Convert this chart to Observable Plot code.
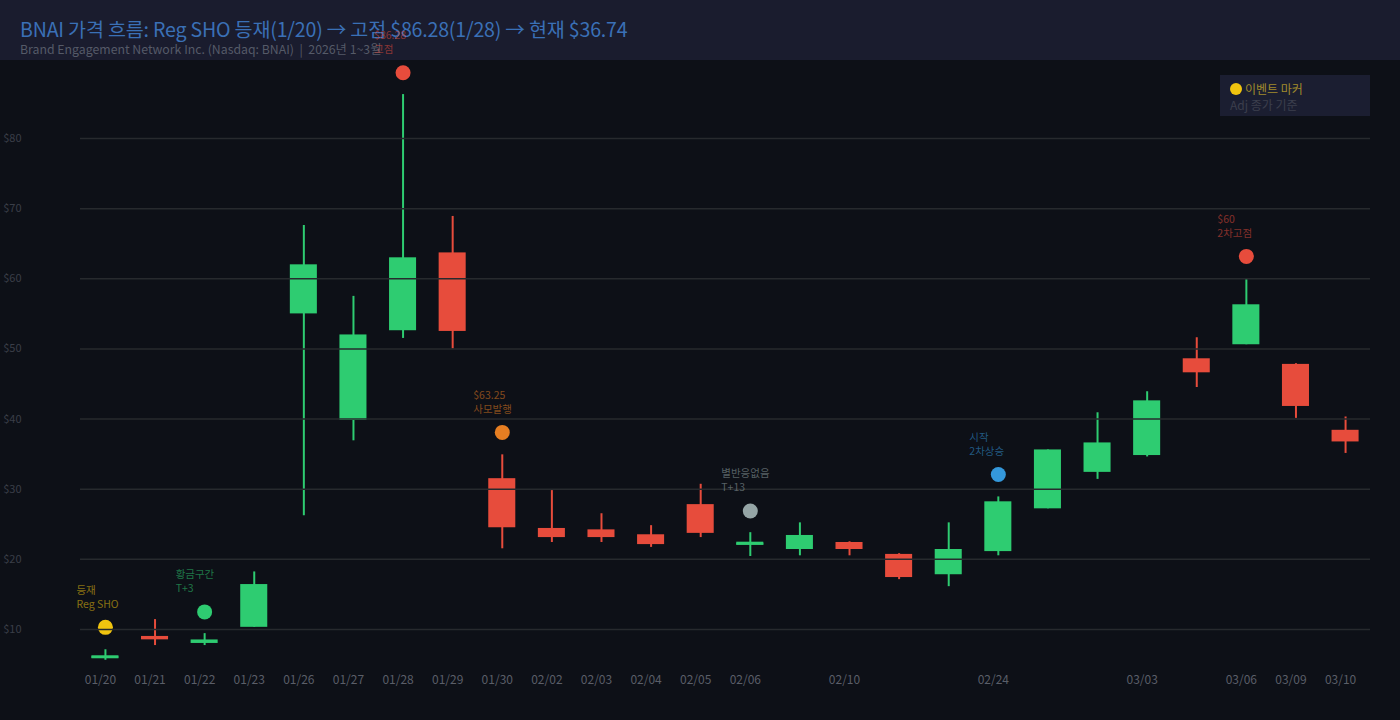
<!DOCTYPE html>
<html><head><meta charset="utf-8">
<script src="https://cdn.jsdelivr.net/npm/d3@7"></script>
<script src="https://cdn.jsdelivr.net/npm/@observablehq/plot@0.6"></script>
<style>
html,body{margin:0;padding:0;background:#0d1017;width:1400px;height:720px;overflow:hidden;font-family:"Noto Sans CJK KR","Noto Sans",sans-serif;}
#header{height:60px;background:#1a1c2e;position:relative;}
#title{position:absolute;top:14px;left:20px;font-size:19.6px;font-weight:400;color:#3a70b6;white-space:nowrap;letter-spacing:-0.2px}
#sub{position:absolute;top:40px;left:20px;font-size:12.3px;font-weight:400;color:#555a68;white-space:nowrap}
#chart{position:relative}
#chart svg{overflow:visible;display:block}
#legend{position:absolute;left:1220px;top:75px;width:150px;height:41px;background:#1b1e31;z-index:2}
#legend .dot{position:absolute;left:10px;top:8px;width:12px;height:12px;border-radius:50%;background:#f1c40f}
#legend .l1{position:absolute;left:25px;top:5px;font-size:12px;color:#a08a2c;white-space:nowrap}
#legend .l2{position:absolute;left:10px;top:21px;font-size:12px;color:#3c3f4d;white-space:nowrap}
</style>
</head><body>
<div id="header">
  <div id="title">BNAI 가격 흐름: Reg SHO 등재(1/20) → 고점 $86.28(1/28) → 현재 $36.74</div>
  <div id="sub">Brand Engagement Network Inc. (Nasdaq: BNAI) &nbsp;|&nbsp; 2026년 1~3월</div>
</div>
<div id="chart"></div>
<div id="legend"><div class="dot"></div><div class="l1">이벤트 마커</div><div class="l2">Adj 종가 기준</div></div>
<script>
// ---- data ----
const dates = ["01/20","01/21","01/22","01/23","01/26","01/27","01/28","01/29","01/30","02/02","02/03","02/04","02/05","02/06","02/09","02/10","02/11","02/12","02/24","02/25","02/26","03/03","03/04","03/06","03/09","03/10"];
const opens  = [5.9, 9.0, 8.0, 10.3, 55.0, 39.8, 52.6, 63.7, 31.5, 24.4, 24.2, 23.5, 27.8, 22.0, 21.4, 22.4, 20.7, 17.8, 21.1, 27.2, 32.4, 34.8, 48.6, 50.6, 47.8, 38.4];
const highs  = [7.1, 11.4, 9.4, 18.2, 67.6, 57.5, 86.28, 68.9, 34.9, 29.8, 26.5, 24.8, 30.7, 23.8, 25.2, 22.5, 20.8, 25.2, 28.9, 35.6, 40.9, 43.9, 51.6, 59.9, 47.9, 40.3];
const lows   = [5.6, 7.7, 7.7, 10.3, 26.2, 36.9, 51.5, 50.0, 21.5, 22.4, 22.4, 21.7, 23.1, 20.4, 20.5, 20.5, 17.1, 16.1, 20.5, 27.2, 31.4, 34.6, 44.5, 50.6, 40.1, 35.1];
const closes = [6.1, 8.8, 8.5, 16.4, 62.0, 52.0, 63.0, 52.5, 24.5, 23.1, 23.1, 22.1, 23.7, 22.3, 23.4, 21.4, 17.4, 21.4, 28.2, 35.6, 36.6, 42.6, 46.6, 56.3, 41.8, 36.74];
const tickLabels = ["01/20","01/21","01/22","01/23","01/26","01/27","01/28","01/29","01/30","02/02","02/03","02/04","02/05","02/06","02/10","02/24","03/03","03/06","03/09","03/10"];
const yTicks = [10,20,30,40,50,60,70,80];

const eventDates  = ["01/20","01/22","01/28","01/30","02/06","02/24","03/06"];
const eventValues = [10.3, 12.5, 89.4, 38.1, 26.9, 32.1, 63.2];
const eventLine1  = ["등재","황금구간","$86.28","$63.25","별반응없음","시작","$60"];
const eventLine2  = ["Reg SHO","T+3","고점","사모발행","T+13","2차상승","2차고점"];
const eventColors = ["#f1c40f","#2ecc71","#e74c3c","#e67e22","#95a5a6","#3498db","#e74c3c"];

const UP = "#2ecc71", DOWN = "#e74c3c";
const candles = dates.map((d,i)=>({date:d, open:opens[i], high:highs[i], low:lows[i], close:closes[i], color: closes[i] >= opens[i] ? UP : DOWN}));
const dojis = candles.filter(c => Math.abs(c.close - c.open) < 0.5);
const events = eventDates.map((d,i)=>({date:d, value:eventValues[i], l1:eventLine1[i], l2:eventLine2[i], color:eventColors[i]}));

const chart = Plot.plot({
  width: 1400,
  height: 660,
  marginLeft: 80,
  marginRight: 30,
  marginTop: 8,
  marginBottom: 49,
  style: {background: "transparent", fontFamily: "'Noto Sans CJK KR','Noto Sans',sans-serif", overflow: "visible"},
  x: {type: "band", domain: dates, paddingInner: 0.455, paddingOuter: 0.23, round: false, axis: null, label: null},
  y: {domain: [4, 90], axis: null, label: null},
  marks: [
    Plot.ruleX(candles, {x: "date", y1: "low", y2: "high", stroke: "color", strokeWidth: 2}),
    Plot.rectY(candles, {x: "date", y1: "open", y2: "close", fill: "color"}),
    Plot.tickY(dojis, {x: "date", y: "close", stroke: "color", strokeWidth: 3}),
    Plot.dot(events, {x: "date", y: "value", r: 7.5, fill: "color", stroke: "none"}),
    Plot.ruleY(yTicks, {stroke: "#272a2e", strokeWidth: 1.5}),
    Plot.text(events, {x: "date", y: "value", text: "l1", fill: "color", fillOpacity: 0.55, textAnchor: "start", dx: -29, dy: -37, fontSize: 10.5}),
    Plot.text(events, {x: "date", y: "value", text: "l2", fill: "color", fillOpacity: 0.55, textAnchor: "start", dx: -29, dy: -23, fontSize: 10.5}),
    Plot.axisY(yTicks, {tickSize: 0, tickPadding: 59, tickFormat: d => "$" + d, fill: "#3a3e48", fontSize: 11, label: null}),
    Plot.axisX(tickLabels, {tickSize: 0, tickPadding: 4, dx: -5, fill: "#5a5e68", fontSize: 12, label: null})
  ]
});
document.getElementById("chart").appendChild(chart);
</script>
</body></html>
